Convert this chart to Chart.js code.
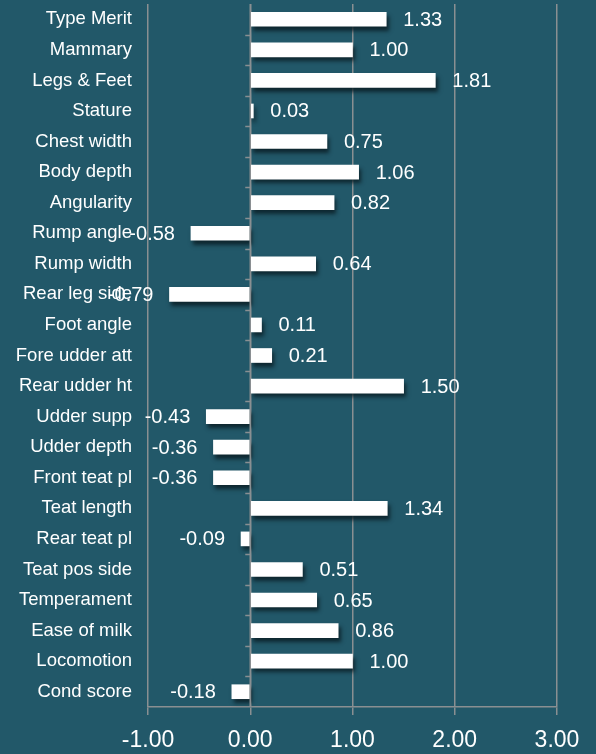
<!DOCTYPE html>
<html>
<head>
<meta charset="utf-8">
<script src="https://cdn.jsdelivr.net/npm/chart.js@4"></script>
<style>
  html, body { margin: 0; padding: 0; background: #225869; }
  #wrap { width: 596px; height: 754px; }
</style>
</head>
<body>
<div id="wrap"><canvas id="traitChart" width="596" height="754"></canvas></div>
<script>
// trait names, top to bottom
const traits = ['Type Merit', 'Mammary', 'Legs & Feet', 'Stature', 'Chest width', 'Body depth',
  'Angularity', 'Rump angle', 'Rump width', 'Rear leg side', 'Foot angle', 'Fore udder att',
  'Rear udder ht', 'Udder supp', 'Udder depth', 'Front teat pl', 'Teat length', 'Rear teat pl',
  'Teat pos side', 'Temperament', 'Ease of milk', 'Locomotion', 'Cond score']
const traitValues = [1.33, 1.00, 1.81, 0.03, 0.75, 1.06, 0.82, -0.58, 0.64, -0.79, 0.11, 0.21,
  1.50, -0.43, -0.36, -0.36, 1.34, -0.09, 0.51, 0.65, 0.86, 1.00, -0.18]
const xTicks = [-1, 0, 1, 2, 3]

const gridGray = '#8a8f92'
const fontFam = '"Liberation Sans", Arial, sans-serif'

// dark shadow under the bars
const barShadow = {
  id: 'barShadow',
  beforeDatasetsDraw(chart) {
    const ctx = chart.ctx
    ctx.save()
    ctx.shadowColor = 'rgba(10, 30, 38, 0.85)'
    ctx.shadowOffsetX = 2
    ctx.shadowOffsetY = 4
    ctx.shadowBlur = 4
  },
  afterDatasetsDraw(chart) {
    chart.ctx.restore()
  }
}

// small ticks on the zero line + value labels
const zeroAndLabels = {
  id: 'zeroAndLabels',
  afterDatasetsDraw(chart) {
    const ctx = chart.ctx
    const x = chart.scales.x
    const x0 = x.getPixelForValue(0)
    const area = chart.chartArea
    ctx.save()
    ctx.strokeStyle = gridGray
    ctx.lineWidth = 1.5
    ctx.beginPath()
    ctx.moveTo(x0, area.top)
    ctx.lineTo(x0, area.bottom)
    const step = (area.bottom - area.top) / traits.length
    for (let i = 1; i < traits.length; i++) {
      const yy = Math.round(area.top + i * step) + 0.5
      ctx.moveTo(x0 - 5, yy)
      ctx.lineTo(x0, yy)
    }
    ctx.stroke()

    ctx.fillStyle = '#ffffff'
    ctx.font = '20px ' + fontFam
    ctx.textBaseline = 'middle'
    const meta = chart.getDatasetMeta(0)
    meta.data.forEach((bar, i) => {
      const v = traitValues[i]
      const txt = v.toFixed(2)
      if (v >= 0) {
        ctx.textAlign = 'left'
        ctx.fillText(txt, bar.x + 17, bar.y + 1)
      } else {
        ctx.textAlign = 'right'
        ctx.fillText(txt, bar.x - 16, bar.y + 1)
      }
    })
    ctx.restore()
  }
}

const ctx = document.getElementById('traitChart').getContext('2d')
const traitChart = new Chart(ctx, {
  type: 'bar',
  data: {
    labels: traits,
    datasets: [{
      data: traitValues,
      backgroundColor: '#ffffff',
      borderWidth: 0,
      barThickness: 14
    }]
  },
  options: {
    indexAxis: 'y',
    responsive: false,
    animation: false,
    layout: { padding: { top: 4, right: 39, bottom: 0, left: 0 } },
    plugins: { legend: { display: false }, tooltip: { enabled: false } },
    scales: {
      x: {
        min: -1,
        max: 3,
        afterBuildTicks(scale) {
          scale.ticks = xTicks.map(v => ({ value: v }))
        },
        grid: {
          color: gridGray,
          lineWidth: 1.5,
          tickLength: 8,
          drawOnChartArea: true
        },
        border: { color: gridGray, width: 1.5 },
        ticks: {
          color: '#ffffff',
          padding: 12,
          font: { size: 23, family: fontFam },
          maxRotation: 0,
          callback: v => Number(v).toFixed(2)
        },
        afterFit(scale) { scale.height = 47 }
      },
      y: {
        grid: { display: false, drawTicks: false },
        border: { display: false },
        ticks: {
          color: '#ffffff',
          padding: 16,
          font: { size: 18.5, family: fontFam }
        },
        afterFit(scale) {
          scale.width = 148
          scale.paddingTop = 0
          scale.paddingBottom = 0
        }
      }
    }
  },
  plugins: [barShadow, zeroAndLabels]
})
</script>
</body>
</html>
